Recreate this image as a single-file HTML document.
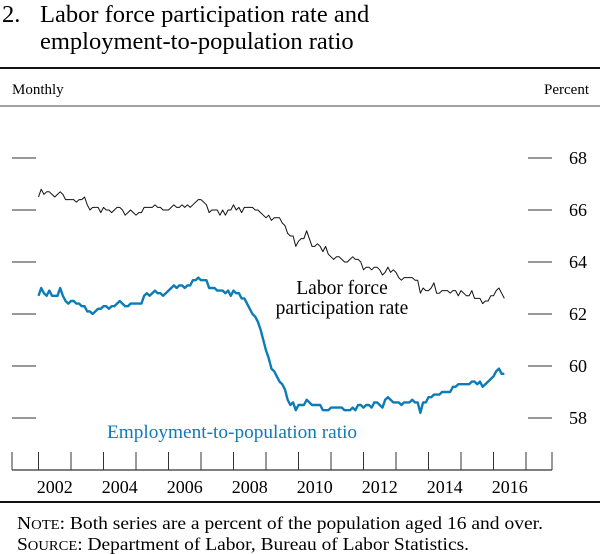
<!DOCTYPE html>
<html><head><meta charset="utf-8">
<style>
html,body{margin:0;padding:0;background:#fff;}
body{width:600px;height:554px;overflow:hidden;font-family:"Liberation Serif",serif;color:#111;}
svg{display:block;}
</style></head>
<body>
<svg width="600" height="554" viewBox="0 0 600 554" font-family="Liberation Serif, serif">
<text x="2" y="22" font-size="24.5">2.</text>
<text x="40" y="22" font-size="24.5">Labor force participation rate and</text>
<text x="40" y="49" font-size="24.5">employment-to-population ratio</text>
<rect x="0" y="67" width="600" height="2" fill="#111"/>
<text x="12" y="94" font-size="15">Monthly</text>
<text x="589" y="94" font-size="15" text-anchor="end">Percent</text>
<rect x="0" y="105.5" width="600" height="1" fill="#444"/>
<g id="yaxis"></g>
<g id="xaxis"></g>
<g id="series"></g>
<text x="342" y="294" font-size="19.5" text-anchor="middle">Labor force</text>
<text x="342" y="314" font-size="19.5" text-anchor="middle">participation rate</text>
<text x="107" y="438" font-size="19.3" fill="#0b7cb8">Employment-to-population ratio</text>
<rect x="0" y="501" width="600" height="2" fill="#111"/>
<text x="17" y="529" font-size="18" textLength="526" lengthAdjust="spacingAndGlyphs">N<tspan font-size="13.5">OTE</tspan>:  Both series are a percent of the population aged 16 and over.</text>
<text x="17" y="550" font-size="18" textLength="452" lengthAdjust="spacingAndGlyphs">S<tspan font-size="13.5">OURCE</tspan>:  Department of Labor, Bureau of Labor Statistics.</text>
</svg>
<script>
const yTicks=[58,60,62,64,66,68];
const xYearLabels=[2002,2004,2006,2008,2010,2012,2014,2016];
const startYear=2002;
const lfpr=[66.5,66.8,66.6,66.7,66.7,66.6,66.5,66.6,66.7,66.6,66.4,66.4,
66.4,66.4,66.3,66.4,66.4,66.5,66.2,66.0,66.1,66.1,66.1,65.9,
66.1,66.0,66.0,65.9,66.0,66.1,66.1,66.0,65.8,65.9,66.0,65.9,
65.8,65.9,65.9,66.1,66.1,66.1,66.1,66.2,66.1,66.1,66.0,66.0,
66.0,66.1,66.2,66.1,66.1,66.2,66.1,66.2,66.1,66.2,66.3,66.4,
66.4,66.3,66.2,65.9,66.0,66.0,66.0,65.8,66.0,65.8,66.0,66.0,
66.2,66.0,66.1,65.9,66.1,66.1,66.1,66.1,66.0,66.0,65.9,65.8,
65.7,65.8,65.6,65.7,65.7,65.7,65.5,65.4,65.1,65.0,65.0,64.6,
64.8,64.9,64.9,65.2,64.9,64.6,64.6,64.7,64.6,64.4,64.6,64.3,
64.2,64.1,64.2,64.2,64.1,64.0,64.0,64.1,64.2,64.1,64.1,64.0,
63.7,63.8,63.8,63.7,63.8,63.8,63.7,63.5,63.6,63.8,63.6,63.7,
63.6,63.4,63.3,63.4,63.4,63.4,63.4,63.3,63.3,62.8,63.0,62.9,
62.9,63.0,63.2,62.8,62.8,62.9,62.9,62.9,62.8,62.9,62.9,62.7,
62.9,62.8,62.7,62.7,62.9,62.6,62.6,62.6,62.4,62.5,62.5,62.7,
62.7,62.9,63.0,62.8,62.6];
const epop=[62.7,63.0,62.8,62.7,62.9,62.7,62.7,62.7,63.0,62.7,62.5,62.4,
62.5,62.5,62.4,62.4,62.3,62.3,62.1,62.1,62.0,62.1,62.2,62.2,
62.3,62.3,62.2,62.3,62.3,62.4,62.5,62.4,62.3,62.3,62.4,62.4,
62.4,62.4,62.4,62.7,62.8,62.7,62.8,62.9,62.8,62.8,62.7,62.8,
62.9,63.0,63.1,63.0,63.1,63.1,63.0,63.1,63.1,63.3,63.3,63.4,
63.3,63.3,63.3,63.0,63.0,63.0,62.9,62.9,62.9,62.8,62.9,62.7,
62.9,62.8,62.8,62.6,62.6,62.4,62.2,62.0,61.9,61.7,61.4,61.0,
60.6,60.3,59.9,59.8,59.6,59.4,59.3,59.1,58.7,58.5,58.6,58.3,
58.5,58.5,58.5,58.7,58.6,58.5,58.5,58.5,58.5,58.3,58.3,58.3,
58.4,58.4,58.4,58.4,58.4,58.3,58.3,58.3,58.4,58.3,58.5,58.5,
58.4,58.5,58.5,58.4,58.6,58.6,58.5,58.4,58.7,58.8,58.7,58.6,
58.6,58.6,58.5,58.6,58.6,58.6,58.7,58.6,58.6,58.2,58.6,58.6,
58.8,58.8,58.9,58.9,58.9,59.0,59.0,59.0,59.0,59.2,59.2,59.3,
59.3,59.3,59.3,59.3,59.4,59.4,59.3,59.4,59.2,59.3,59.4,59.5,
59.6,59.8,59.9,59.7,59.7];

const NS='http://www.w3.org/2000/svg';
const X0=38.5, PXY=32.5;
function xScale(t){return X0+(t-startYear)*PXY;}
function yScale(v){return 210-(v-66)*26;}
function mk(tag,attrs,parent){const e=document.createElementNS(NS,tag);for(const k in attrs)e.setAttribute(k,attrs[k]);parent.appendChild(e);return e;}

const ya=document.getElementById('yaxis');
yTicks.forEach(v=>{
  const y=yScale(v);
  const l=mk('line',{x1:12,x2:36,y1:y,y2:y,stroke:'#333','stroke-width':1},ya);
  
  
  const r=mk('line',{x1:528,x2:552,y1:y,y2:y,stroke:'#333','stroke-width':1},ya);
  
  
  const t=mk('text',{x:578,y:y+6,'font-size':18,'text-anchor':'middle'},ya);
  t.textContent=v;
  
  
});

const xa=document.getElementById('xaxis');
const base=470;
const bl=mk('line',{x1:12,x2:552,y1:base,y2:base,stroke:'#333','stroke-width':1.2},xa);


[12,552].forEach(x=>{
  const e=mk('line',{x1:x,x2:x,y1:452,y2:base,stroke:'#333','stroke-width':1},xa);
  
  
});
for(let yr=startYear;yr<=2017;yr++){
  const x=xScale(yr);
  const tk=mk('line',{x1:x,x2:x,y1:452,y2:base,stroke:'#333','stroke-width':1},xa);
  
  
}
xYearLabels.forEach(yr=>{
  const t=mk('text',{x:xScale(yr+0.5),y:493,'font-size':18,'text-anchor':'middle'},xa);
  t.textContent=yr;
  
  
});

const sg=document.getElementById('series');
function path(arr){return arr.map((v,i)=>(i?'L':'M')+xScale(startYear+i/12).toFixed(2)+','+yScale(v).toFixed(2)).join('');}
const p1=mk('path',{d:path(lfpr),fill:'none',stroke:'#111','stroke-width':1,'stroke-linejoin':'round'},sg);


const p2=mk('path',{d:path(epop),fill:'none',stroke:'#0b7cb8','stroke-width':2.4,'stroke-linejoin':'round'},sg);


</script>
</body></html>
